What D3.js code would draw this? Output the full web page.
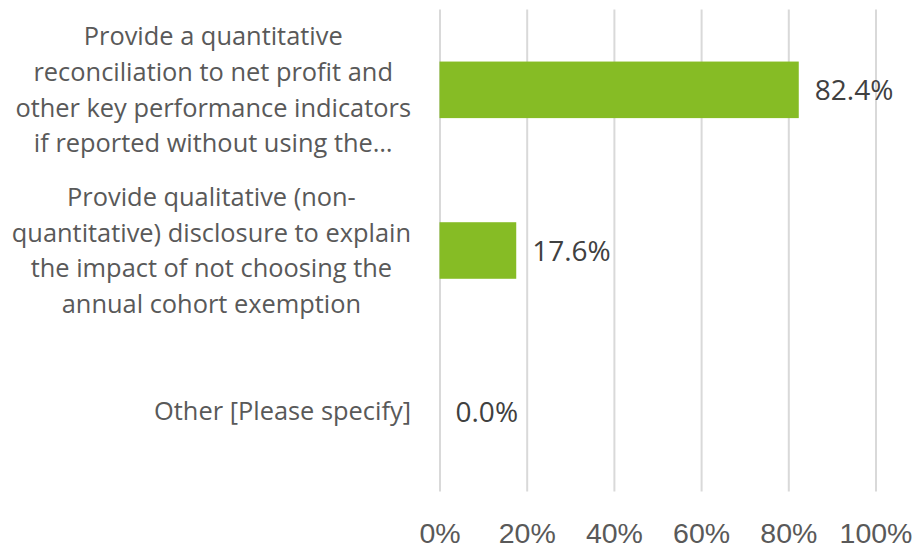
<!DOCTYPE html>
<html>
<head>
<meta charset="utf-8">
<script src="https://cdn.jsdelivr.net/npm/d3@7"></script>
<style>
  body { margin: 0; background: #fff; }
  svg { display: block; font-family: "Open Sans", "Noto Sans", sans-serif; }
</style>
</head>
<body>
<svg width="913" height="548"></svg>
<script>
// data
const categories = [
  ['Provide a quantitative', 'reconciliation to net profit and', 'other key performance indicators', 'if reported without using the\u2026'],
  ['Provide qualitative (non-', 'quantitative) disclosure to explain', 'the impact of not choosing the', 'annual cohort exemption'],
  ['Other [Please specify]']
];
const values = [82.4, 17.6, 0.0];
const tickValues = [0, 20, 40, 60, 80, 100];

const svg = d3.select('svg');
const svgWidth = +svg.attr('width');
const svgHeight = +svg.attr('height');
const margins = { top: 9.5, right: 37.5, bottom: 56.5, left: 439.5 };
const chartAreaWidth = svgWidth - (margins.left + margins.right);
const chartAreaHeight = svgHeight - (margins.top + margins.bottom);

const barColor = '#86bc25';
const gridColor = '#d9d9d9';
const textColor = '#595959';

const chartArea = svg.append('g')
  .attr('transform', `translate(${margins.left}, ${margins.top})`);

const xScale = d3.scaleLinear()
  .domain([0, 100])
  .range([0, chartAreaWidth]);

const yScale = d3.scaleBand()
  .domain(d3.range(categories.length))
  .range([0, chartAreaHeight])
  .paddingInner(0.648)
  .paddingOuter(0.324);

// gridlines + tick labels
const xAxis = d3.axisBottom(xScale)
  .tickValues(tickValues)
  .tickSize(-chartAreaHeight)
  .tickPadding(31)
  .tickFormat(d => d + '%');
const xAxisGroup = chartArea.append('g')
  .attr('transform', `translate(0, ${chartAreaHeight})`)
  .call(xAxis);
xAxisGroup.select('path.domain').remove();
xAxisGroup.selectAll('line')
  .attr('stroke', gridColor)
  .attr('stroke-width', 2);
xAxisGroup.selectAll('text')
  .attr('fill', textColor)
  .style('font-size', '28.5px')
  .attr('dy', '0.71em');

// bars
chartArea.selectAll('rect.bar')
  .data(values)
  .enter()
  .append('rect')
    .attr('class', 'bar')
    .attr('x', 0)
    .attr('y', (d, i) => yScale(i))
    .attr('width', d => xScale(d))
    .attr('height', yScale.bandwidth())
    .attr('fill', barColor);

// value labels
chartArea.selectAll('text.value')
  .data(values)
  .enter()
  .append('text')
    .attr('class', 'value')
    .attr('x', d => xScale(d) + 16)
    .attr('y', (d, i) => yScale(i) + yScale.bandwidth() / 2)
    .attr('dy', '0.37em')
    .attr('fill', '#404040')
    .style('font-size', '28px')
    .text(d => d.toFixed(1) + '%');

// category labels
const labelRight = -28.5;
const lineHeight = 35.7;
categories.forEach((lines, i) => {
  const cy = yScale(i) + yScale.bandwidth() / 2;
  const g = chartArea.append('g');
  const texts = g.selectAll('text')
    .data(lines)
    .enter()
    .append('text')
      .attr('y', (d, j) => cy + (j - (lines.length - 1) / 2) * lineHeight)
      .attr('dy', '0.35em')
      .attr('fill', textColor)
      .style('font-size', '25.4px')
      .text(d => d);
  if (lines.length === 1) {
    texts.attr('x', labelRight).attr('text-anchor', 'end');
  } else {
    const maxW = d3.max(texts.nodes(), n => n.getComputedTextLength());
    texts.attr('x', labelRight - maxW / 2).attr('text-anchor', 'middle');
  }
});
</script>
</body>
</html>
